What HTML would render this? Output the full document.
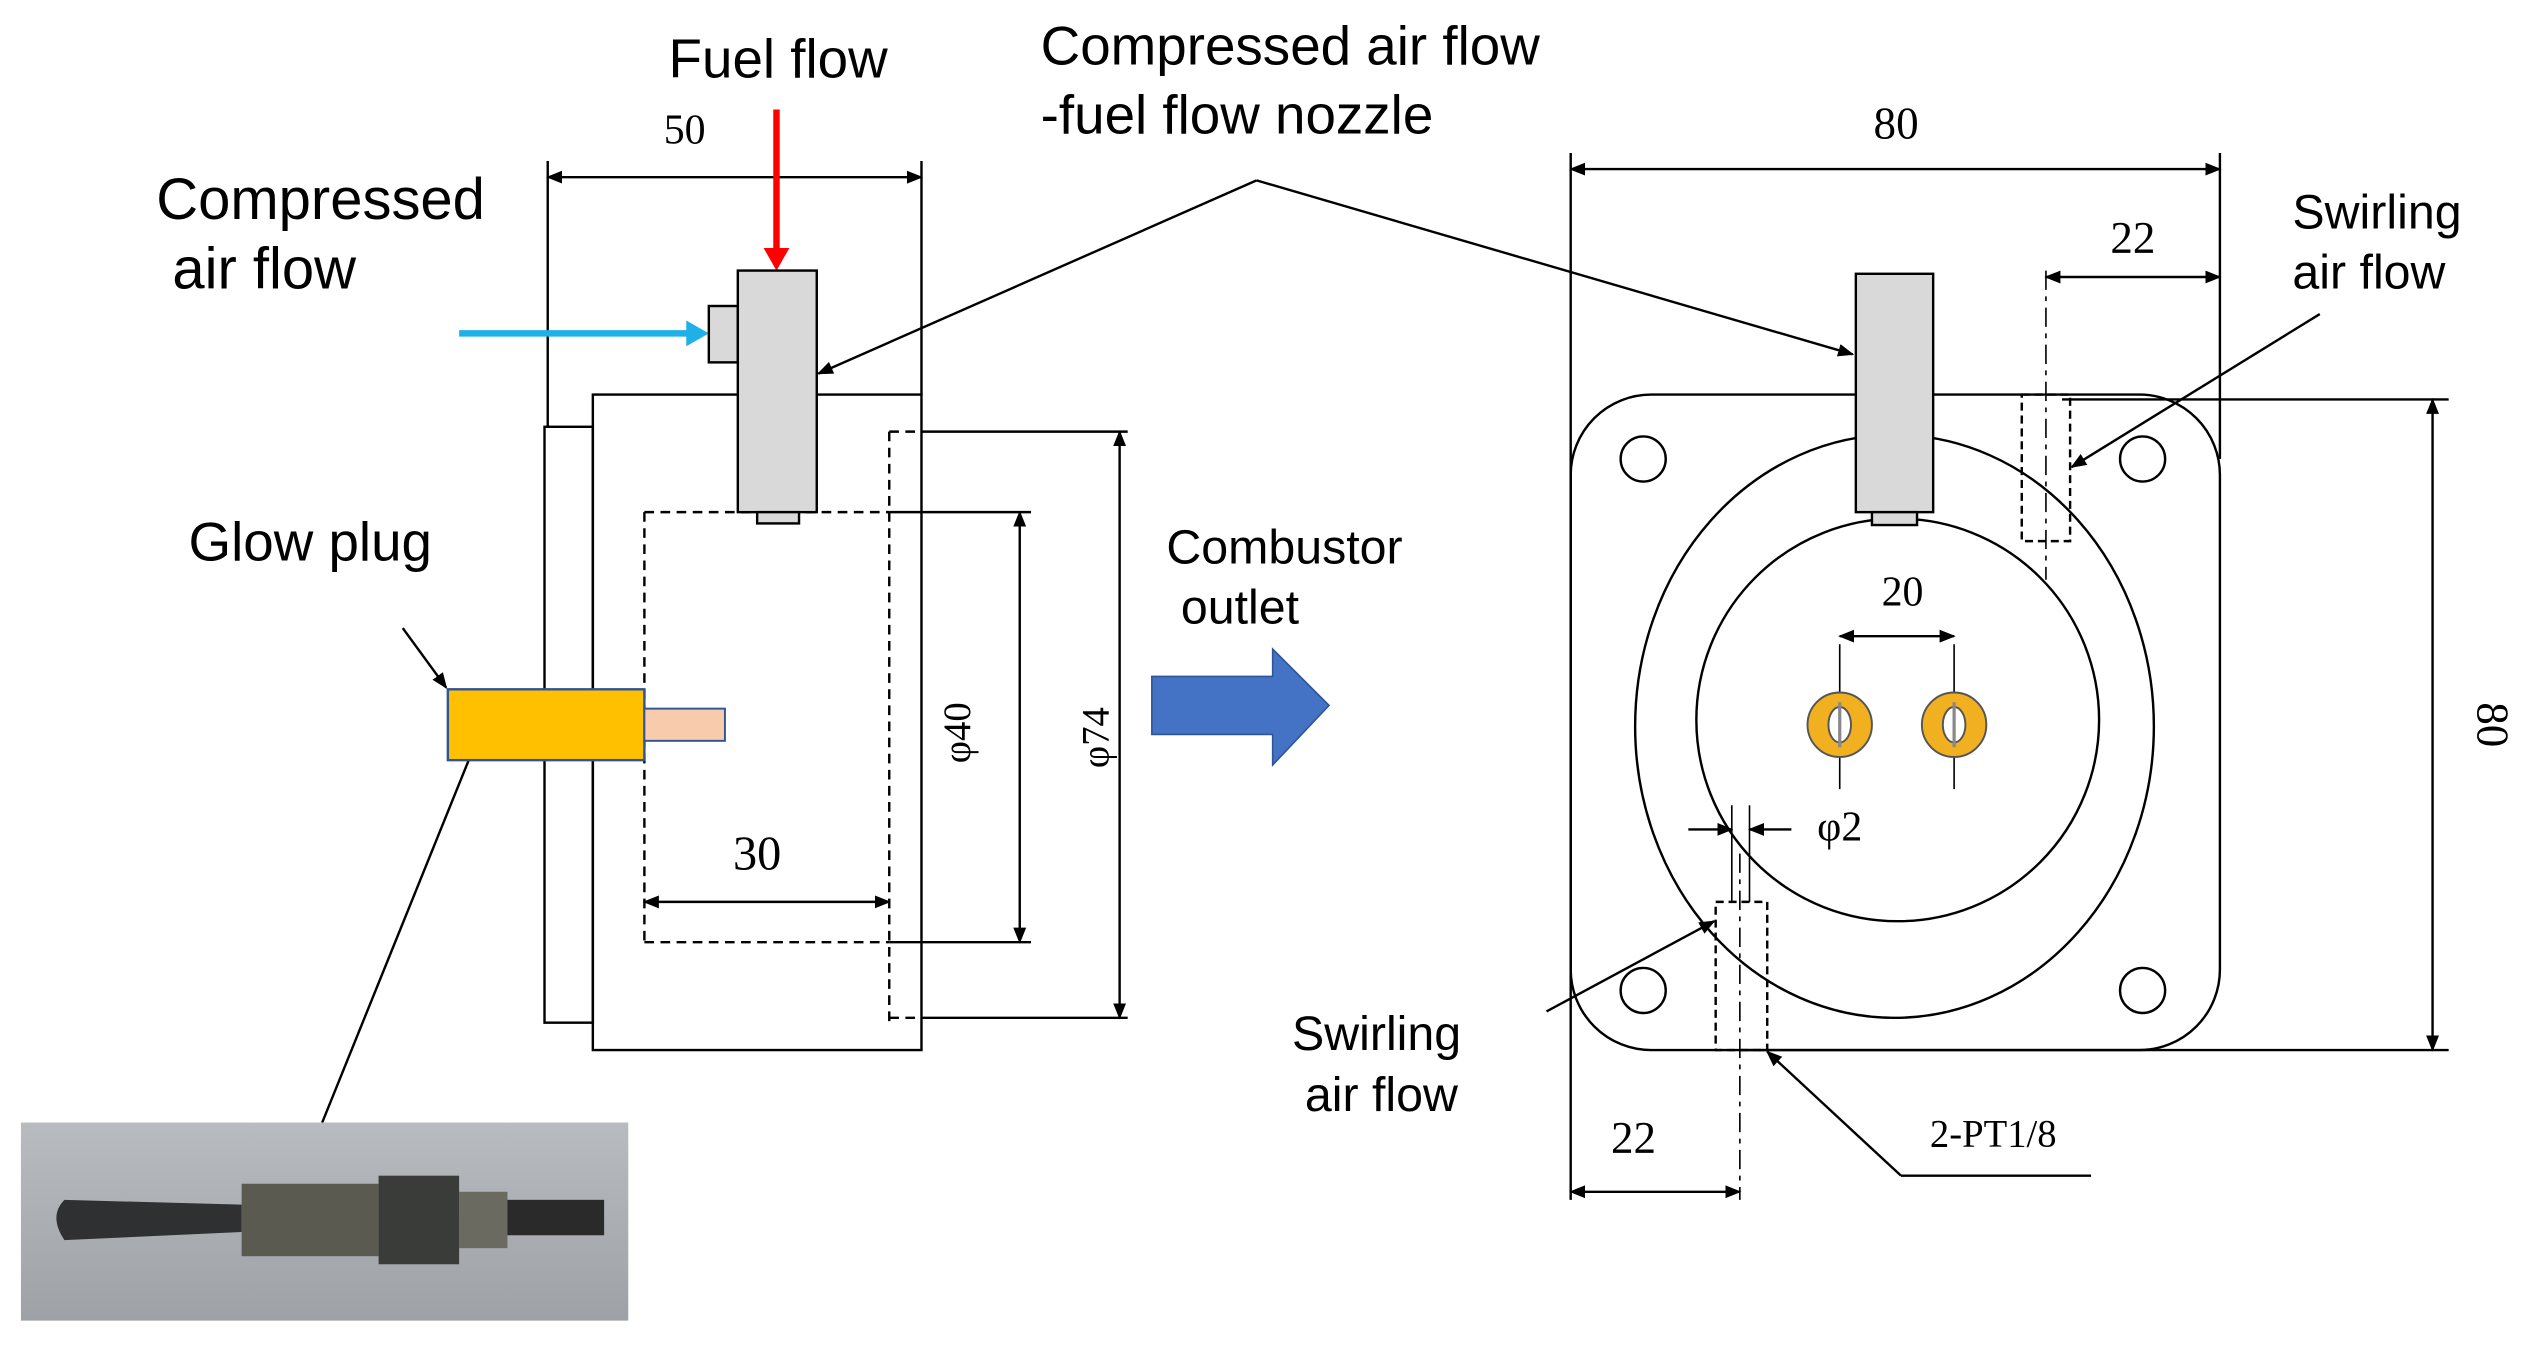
<!DOCTYPE html>
<html><head><meta charset="utf-8"><style>
html,body{margin:0;padding:0;background:#fff}
svg{display:block}
.s{font-family:"Liberation Sans",sans-serif;font-size:34px;fill:#000}
.r{font-family:"Liberation Serif",serif;font-size:26px;fill:#000}
</style></head><body>
<svg width="2526" height="1348" viewBox="0 0 1568 837" preserveAspectRatio="none" xmlns="http://www.w3.org/2000/svg">
<defs>
<marker id="a" markerWidth="10" markerHeight="10" refX="9" refY="5" orient="auto" markerUnits="userSpaceOnUse"><path d="M0,1 L10,5 L0,9 z" fill="#000"/></marker>
<marker id="b" markerWidth="10" markerHeight="10" refX="1" refY="5" orient="auto" markerUnits="userSpaceOnUse"><path d="M10,1 L0,5 L10,9 z" fill="#000"/></marker>
<linearGradient id="ph" x1="0" y1="0" x2="0" y2="1"><stop offset="0" stop-color="#b8bcc0"/><stop offset="1" stop-color="#9ea2a6"/></linearGradient>
</defs>
<g stroke="#000" stroke-width="1.5" fill="none">
<line x1="340" y1="100" x2="340" y2="265"/><line x1="572" y1="100" x2="572" y2="245"/>
<line x1="340" y1="110" x2="572" y2="110" marker-start="url(#b)" marker-end="url(#a)"/>
<rect x="338" y="265" width="30" height="370"/>
<rect x="368" y="245" width="204" height="407"/>
<g stroke-dasharray="6,4">
<line x1="400" y1="318" x2="400" y2="588"/><line x1="400" y1="318" x2="552" y2="318"/><line x1="400" y1="585" x2="552" y2="585"/>
<line x1="552" y1="268" x2="552" y2="635"/><line x1="552" y1="268" x2="572" y2="268"/><line x1="552" y1="632" x2="572" y2="632"/>
</g>
<line x1="572" y1="268" x2="700" y2="268"/><line x1="572" y1="632" x2="700" y2="632"/>
<line x1="552" y1="318" x2="640" y2="318"/><line x1="552" y1="585" x2="640" y2="585"/>
<line x1="633" y1="318" x2="633" y2="585" marker-start="url(#b)" marker-end="url(#a)"/>
<line x1="695" y1="268" x2="695" y2="632" marker-start="url(#b)" marker-end="url(#a)"/>
<line x1="400" y1="560" x2="552" y2="560" marker-start="url(#b)" marker-end="url(#a)"/>
<line x1="250" y1="390" x2="277" y2="427" marker-end="url(#a)"/>
<line x1="200" y1="697" x2="295" y2="462" marker-end="url(#a)"/>
<line x1="780" y1="112" x2="508" y2="232" marker-end="url(#a)"/>
<line x1="780" y1="112" x2="1150" y2="220" marker-end="url(#a)"/>
<line x1="975" y1="95" x2="975" y2="745"/><line x1="1378" y1="95" x2="1378" y2="285"/>
<line x1="975" y1="105" x2="1378" y2="105" marker-start="url(#b)" marker-end="url(#a)"/>
<rect x="975" y="245" width="403" height="407" rx="50"/>
<ellipse cx="1176" cy="451" rx="161" ry="181"/><circle cx="1178" cy="447" r="125"/>
<circle cx="1020" cy="285" r="14"/><circle cx="1330" cy="285" r="14"/><circle cx="1020" cy="615" r="14"/><circle cx="1330" cy="615" r="14"/>
<rect x="1255" y="245" width="30" height="91" stroke-dasharray="5,3"/>
<line x1="1270" y1="168" x2="1270" y2="360" stroke-dasharray="12,4,3,4" stroke-width="1"/>
<line x1="1270" y1="172" x2="1378" y2="172" marker-start="url(#b)" marker-end="url(#a)"/>
<line x1="1440" y1="195" x2="1286" y2="290" marker-end="url(#a)"/>
<line x1="1280" y1="248" x2="1520" y2="248"/><line x1="1080" y1="652" x2="1520" y2="652"/>
<line x1="1510" y1="248" x2="1510" y2="652" marker-start="url(#b)" marker-end="url(#a)"/>
<line x1="1142" y1="395" x2="1213" y2="395" marker-start="url(#b)" marker-end="url(#a)"/>
<line x1="1142" y1="400" x2="1142" y2="490" stroke-width="1"/><line x1="1213" y1="400" x2="1213" y2="490" stroke-width="1"/>
<rect x="1065" y="560" width="32" height="92" stroke-dasharray="5,3"/>
<line x1="1080" y1="530" x2="1080" y2="745" stroke-dasharray="12,4,3,4" stroke-width="1"/>
<line x1="1048" y1="515" x2="1075" y2="515" marker-end="url(#a)"/><line x1="1112" y1="515" x2="1086" y2="515" marker-end="url(#a)"/>
<line x1="1075" y1="500" x2="1075" y2="560" stroke-width="1"/><line x1="1086" y1="500" x2="1086" y2="560" stroke-width="1"/>
<line x1="975" y1="740" x2="1080" y2="740" marker-start="url(#b)" marker-end="url(#a)"/>
<line x1="960" y1="628" x2="1064" y2="572" marker-end="url(#a)"/>
<line x1="1180" y1="730" x2="1298" y2="730"/>
<line x1="1180" y1="730" x2="1097" y2="653" marker-end="url(#a)"/>
</g>
<line x1="482" y1="68" x2="482" y2="158" stroke="#ff0000" stroke-width="4"/>
<path d="M474,154 L490,154 L482,168 z" fill="#ff0000"/>
<line x1="285" y1="207" x2="428" y2="207" stroke="#1fb0e8" stroke-width="4"/>
<path d="M426,199 L440,207 L426,215 z" fill="#1fb0e8"/>
<g stroke="#000" stroke-width="1.5" fill="#d9d9d9">
<rect x="440" y="190" width="18" height="35"/>
<rect x="458" y="168" width="49" height="150"/>
<rect x="470" y="318" width="26" height="7"/>
<rect x="1152" y="170" width="48" height="148"/>
<rect x="1162" y="318" width="28" height="8"/>
</g>
<rect x="278" y="428" width="122" height="44" fill="#ffc000" stroke="#2f5597" stroke-width="1.5"/>
<rect x="400" y="440" width="50" height="20" fill="#f8cbad" stroke="#2f5597" stroke-width="1.2"/>
<path d="M715,420 L790,420 L790,403 L825,438 L790,475 L790,456 L715,456 z" fill="#4472c4" stroke="#2f5597"/>
<g stroke="#555" stroke-width="1.2">
<circle cx="1142" cy="450" r="20" fill="#f0b020"/><ellipse cx="1142" cy="450" rx="7" ry="11" fill="#fff"/>
<circle cx="1213" cy="450" r="20" fill="#f0b020"/><ellipse cx="1213" cy="450" rx="7" ry="11" fill="#fff"/>
</g>
<line x1="1142" y1="436" x2="1142" y2="464" stroke="#888" stroke-width="2"/>
<line x1="1213" y1="436" x2="1213" y2="464" stroke="#888" stroke-width="2"/>
<rect x="13" y="697" width="377" height="123" fill="url(#ph)"/>
<path d="M40,745 Q30,755 40,770 L150,765 L150,748 z" fill="#2e3032"/>
<rect x="150" y="735" width="85" height="45" fill="#5a5a50"/>
<rect x="235" y="730" width="50" height="55" fill="#3a3c3a"/>
<rect x="285" y="740" width="30" height="35" fill="#6a6a60"/>
<rect x="315" y="745" width="60" height="22" fill="#2a2a2a"/>
<text class="s" x="415" y="48">Fuel flow</text>
<text class="r" x="412" y="89">50</text>
<text class="s" x="97" y="136" style="font-size:36px">Compressed</text>
<text class="s" x="107" y="179" style="font-size:36px">air flow</text>
<text class="s" x="646" y="40">Compressed air flow</text>
<text class="s" x="646" y="83">-fuel flow nozzle</text>
<text class="s" x="117" y="348">Glow plug</text>
<text class="s" x="724" y="350" style="font-size:30px">Combustor</text>
<text class="s" x="733" y="387" style="font-size:30px">outlet</text>
<text class="r" x="455" y="540" style="font-size:30px">30</text>
<text class="r" transform="translate(602,455) rotate(-90)" text-anchor="middle" style="font-size:24px">φ40</text>
<text class="r" transform="translate(688,458) rotate(-90)" text-anchor="middle" style="font-size:24px">φ74</text>
<text class="r" x="1163" y="86" style="font-size:28px">80</text>
<text class="r" x="1310" y="157" style="font-size:28px">22</text>
<text class="s" x="1423" y="142" style="font-size:30px">Swirling</text>
<text class="s" x="1423" y="179" style="font-size:30px">air flow</text>
<text class="r" x="1168" y="376">20</text>
<text class="r" x="1128" y="522">φ2</text>
<text class="r" transform="translate(1538,450) rotate(90)" text-anchor="middle" style="font-size:28px">80</text>
<text class="s" x="802" y="652" style="font-size:30px">Swirling</text>
<text class="s" x="810" y="690" style="font-size:30px">air flow</text>
<text class="r" x="1000" y="716" style="font-size:28px">22</text>
<text class="r" x="1198" y="712" style="font-size:24px">2-PT1/8</text>
</svg>
</body></html>
